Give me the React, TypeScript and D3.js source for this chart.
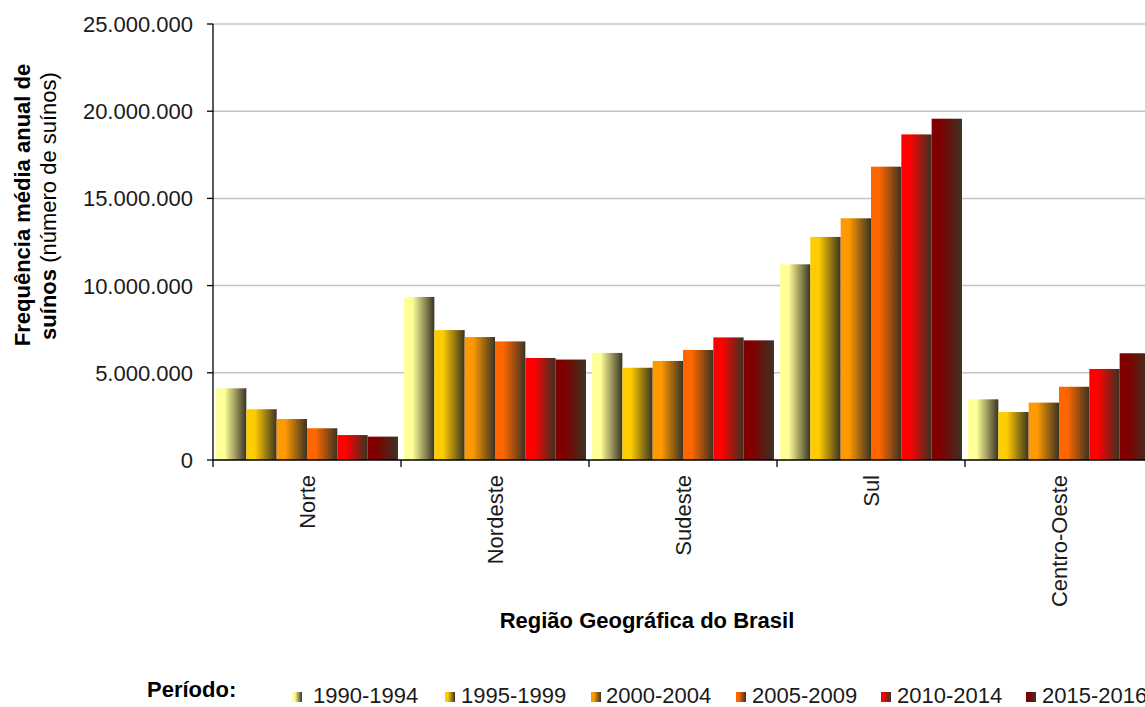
import React from "react";
import * as d3 from "d3";

const categories = ["Norte", "Nordeste", "Sudeste", "Sul", "Centro-Oeste"];
const periods = ["1990-1994", "1995-1999", "2000-2004", "2005-2009", "2010-2014", "2015-2016"];
const periodColors = ["#ffff99", "#ffcc00", "#ff9900", "#ff6600", "#ff0000", "#800000"];

const v1990 = [4110000, 9350000, 6140000, 11220000, 3480000];
const v1995 = [2910000, 7450000, 5290000, 12790000, 2750000];
const v2000 = [2350000, 7050000, 5680000, 13860000, 3290000];
const v2005 = [1820000, 6800000, 6310000, 16820000, 4200000];
const v2010 = [1430000, 5850000, 7030000, 18670000, 5220000];
const v2015 = [1340000, 5760000, 6860000, 19570000, 6120000];
const seriesValues = [v1990, v1995, v2000, v2005, v2010, v2015];

const yTicks = [0, 5000000, 10000000, 15000000, 20000000, 25000000];
const legendSquareX = [292, 445, 591, 736, 881, 1026];
const legendTextX = [313, 461, 606, 752, 897, 1042];

const W = 1145;
const H = 707;
const left = 213;
const top = 24;
const bottom = 460;
const step = 188;

const fmt = d3
  .formatLocale({ decimal: ",", thousands: ".", grouping: [3], currency: ["", ""] })
  .format(",d");

export default function App() {
  const x = d3
    .scaleBand<string>()
    .domain(categories)
    .range([left, left + step * categories.length])
    .paddingInner(0)
    .paddingOuter(0);
  const xi = d3
    .scaleBand<string>()
    .domain(periods)
    .range([0, x.bandwidth()])
    .paddingInner(0)
    .paddingOuter(0.1);
  const y = d3.scaleLinear().domain([0, 25000000]).range([bottom, top]);

  const font = "'Liberation Sans', Arial, sans-serif";

  return (
    <div style={{ position: "fixed", left: 0, top: 0, width: W, height: H, background: "#fff" }}>
      <svg width={W} height={H} style={{ display: "block" }} fontFamily={font}>
        <defs>
          {periodColors.map((c, i) => (
            <linearGradient key={i} id={`g${i}`} x1="0" y1="0" x2="1" y2="0">
              <stop offset="0" stopColor={c} />
              <stop offset="0.28" stopColor={c} />
              <stop offset="1" stopColor="#3a3322" />
            </linearGradient>
          ))}
        </defs>
        <rect x={0} y={0} width={W} height={H} fill="#fff" />
        {yTicks.filter((t) => t > 0).map((t) => (
          <line key={t} x1={left} x2={W} y1={y(t)} y2={y(t)} stroke="#c4c4c4" strokeWidth={1.5} />
        ))}
        {categories.map((cat, ci) => (
          <g key={cat}>
            {periods.map((p, si) => {
              const v = seriesValues[si][ci];
              const bx = (x(cat) as number) + (xi(p) as number);
              return (
                <rect
                  key={p}
                  x={bx}
                  y={y(v)}
                  width={xi.bandwidth()}
                  height={bottom - y(v)}
                  fill={`url(#g${si})`}
                />
              );
            })}
          </g>
        ))}
        <line x1={left} x2={left} y1={top} y2={bottom} stroke="#000" strokeWidth={1.3} />
        {yTicks.map((t) => (
          <g key={t}>
            <line x1={left - 6} x2={left} y1={y(t)} y2={y(t)} stroke="#000" strokeWidth={1.3} />
            <text x={193} y={y(t) + 8} textAnchor="end" fontSize={22} fill="#1a1a1a">
              {fmt(t)}
            </text>
          </g>
        ))}
        <line x1={left} x2={W} y1={bottom} y2={bottom} stroke="#000" strokeWidth={1.3} />
        {d3.range(categories.length + 1).map((i) => (
          <line
            key={i}
            x1={left + i * step}
            x2={left + i * step}
            y1={bottom}
            y2={bottom + 7}
            stroke="#000"
            strokeWidth={1.3}
          />
        ))}
        {categories.map((cat) => {
          const cx = (x(cat) as number) + x.bandwidth() / 2;
          return (
            <text
              key={cat}
              transform={`translate(${cx + 8},475) rotate(-90)`}
              textAnchor="end"
              fontSize={22}
              fill="#1a1a1a"
            >
              {cat}
            </text>
          );
        })}
        <text x={647} y={628} textAnchor="middle" fontSize={22} fontWeight="bold" fill="#000">
          Região Geográfica do Brasil
        </text>
        <text transform="translate(30,205) rotate(-90)" textAnchor="middle" fontSize={22} fontWeight="bold" fill="#000">
          Frequência média anual de
        </text>
        <text transform="translate(56,206) rotate(-90)" textAnchor="middle" fontSize={22} fill="#000">
          <tspan fontWeight="bold">suínos</tspan>
          <tspan> (número de suínos)</tspan>
        </text>
        <text x={147} y={697} fontSize={22} fontWeight="bold" fill="#000">
          Período:
        </text>
        {periods.map((p, i) => (
          <g key={p}>
            <rect x={legendSquareX[i]} y={692} width={10} height={10} fill={`url(#g${i})`} />
            <text x={legendTextX[i]} y={703} fontSize={22} fill="#1a1a1a">
              {p}
            </text>
          </g>
        ))}
      </svg>
    </div>
  );
}
